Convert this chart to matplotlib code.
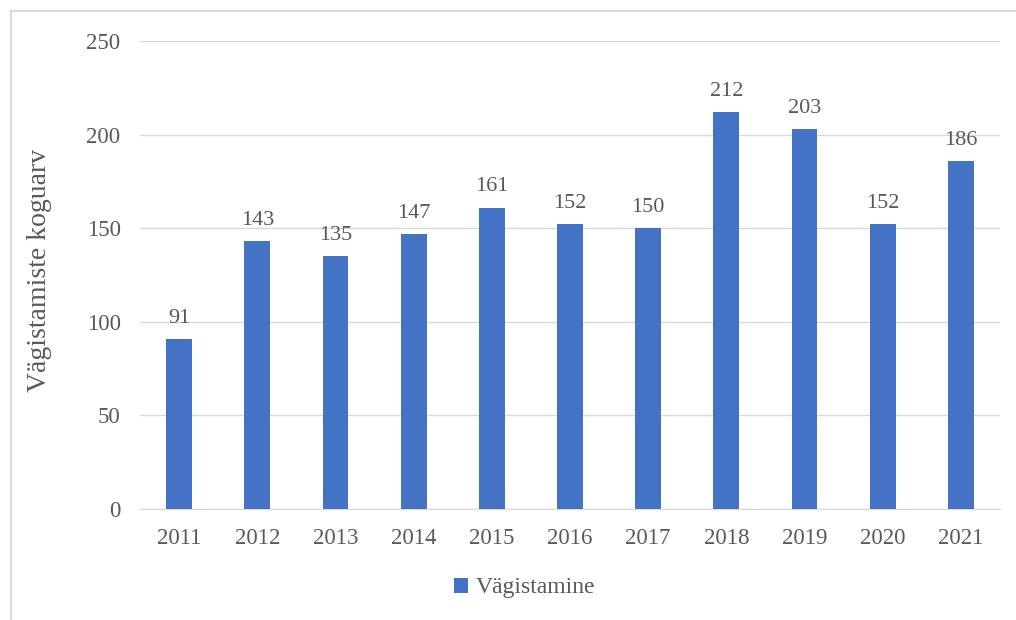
import matplotlib.pyplot as plt
from matplotlib.lines import Line2D

plt.rcParams['font.family'] = ['Liberation Serif', 'DejaVu Serif']

years = ['2011', '2012', '2013', '2014', '2015', '2016', '2017', '2018', '2019', '2020', '2021']
counts = [91, 143, 135, 147, 161, 152, 150, 212, 203, 152, 186]
yticks = [0, 50, 100, 150, 200, 250]

txt = '#595959'
grid = '#d9d9d9'
blue = '#4472C4'

fig = plt.figure(figsize=(10.16, 6.2), dpi=100)
ax = fig.add_axes([140/1016, 1 - 509/620, 860/1016, 468/620])

x = range(len(years))
ax.bar(x, counts, width=0.33, color=blue, label='Vägistamine', zorder=3)
for xi, v in zip(x, counts):
    ax.annotate(str(v), (xi, v), xytext=(0, 8), textcoords='offset points',
                ha='center', va='bottom', fontsize=16, color=txt)

ax.set_xlim(-0.5, len(years) - 0.5)
ax.set_ylim(0, 250)
ax.set_yticks(yticks)
ax.set_xticks(list(x))
ax.set_xticklabels(years)
ax.grid(axis='y', color=grid, linewidth=1, zorder=0)
for s in ['top', 'right', 'left']:
    ax.spines[s].set_visible(False)
ax.spines['bottom'].set_color(grid)
ax.tick_params(axis='both', length=0, labelsize=16.5, colors=txt)
ax.tick_params(axis='y', pad=14)
ax.tick_params(axis='x', pad=14)
ax.set_ylabel('Vägistamiste koguarv', fontsize=20, color=txt)
ax.yaxis.set_label_coords(-(140 - 52) / 860, 0.51)

ax.legend(loc='center', bbox_to_anchor=(0.447, (509 - 588) / 468), frameon=False,
          fontsize=17, labelcolor=txt, handlelength=0.6, handleheight=0.6,
          handletextpad=0.3)

# chart frame
fig.add_artist(Line2D([11/1016, 11/1016], [0, 1 - 11/620], color=grid, lw=1.5))
fig.add_artist(Line2D([11/1016, 1], [1 - 11/620, 1 - 11/620], color=grid, lw=1.5))

fig.savefig('out.png', dpi=100)
